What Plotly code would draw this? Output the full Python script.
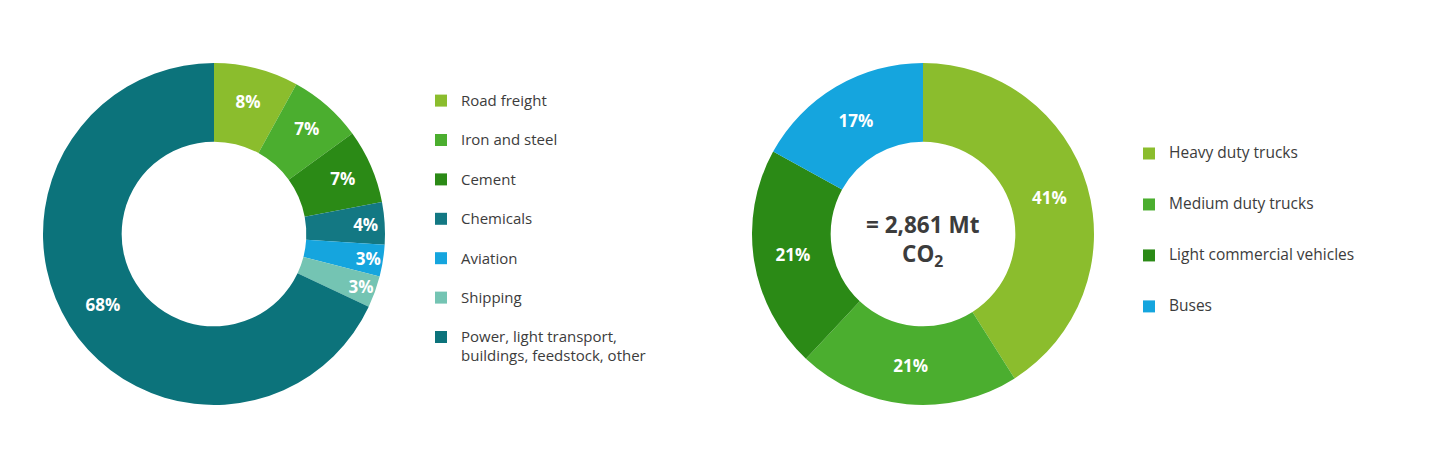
import plotly.graph_objects as go

# left donut: share of emissions by sector
sector_labels = ["Road freight", "Iron and steel", "Cement", "Chemicals",
                 "Aviation", "Shipping", "Power, light transport,<br>buildings, feedstock, other"]
sector_share = [8, 7, 7, 4, 3, 3, 68]
sector_colors = ["#8BBD2D", "#4BAE2F", "#2B8A16", "#137883", "#15A5DE", "#74C4B3", "#0C737B"]

# right donut: road freight split by vehicle type
vehicle_labels = ["Heavy duty trucks", "Medium duty trucks", "Light commercial vehicles", "Buses"]
vehicle_share = [41, 21, 21, 17]
vehicle_colors = ["#8BBD2D", "#4BAE2F", "#2B8A16", "#15A5DE"]

center_text = "= 2,861 Mt<br>CO<sub>2</sub>"

W, H = 1434, 452
OFF = 8  # page body margin in the browser
FONT = "Open Sans, Arial, sans-serif"
TEXT_COLOR = "#3c3c3c"
NBSP = "\u00a0"


def px_x(v):
    return (v - OFF) / W


def px_y(v):
    return 1 - (v - OFF) / H


def big(text, size):
    # legend row height follows the legend font size, so the shown text is
    # enlarged with a span while the row pitch stays as set
    return "<br>".join('<span style="font-size:%spx">%s</span>' % (size, t)
                       for t in text.split("<br>"))


fig = go.Figure()

# single-line items get blank lines so legend rows are spaced like the source
left_legend_text = [big(l, 15) if "<br>" in l else big(l, 15) + "<br>" + NBSP
                    for l in sector_labels]
right_legend_text = [big(l, 15.5) + "<br>" + NBSP + "<br>" + NBSP for l in vehicle_labels]

fig.add_trace(go.Pie(
    labels=left_legend_text,
    values=sector_share,
    hole=0.54,
    sort=False,
    direction="clockwise",
    rotation=0,
    marker=dict(colors=sector_colors, line=dict(width=0)),
    texttemplate="%{value}%",
    textposition="inside",
    insidetextorientation="horizontal",
    textfont=dict(family=FONT, size=17, color="white", weight="bold"),
    domain=dict(x=[px_x(43), px_x(385)], y=[px_y(405), px_y(63)]),
    legend="legend",
    hoverinfo="percent",
))

fig.add_trace(go.Pie(
    labels=right_legend_text,
    values=vehicle_share,
    hole=0.54,
    sort=False,
    direction="clockwise",
    rotation=0,
    marker=dict(colors=vehicle_colors, line=dict(width=0)),
    texttemplate="%{value}%",
    textposition="inside",
    insidetextorientation="horizontal",
    textfont=dict(family=FONT, size=17, color="white", weight="bold"),
    domain=dict(x=[px_x(752), px_x(1094)], y=[px_y(405), px_y(63)]),
    legend="legend2",
    hoverinfo="percent",
))

fig.add_annotation(
    text=center_text, x=px_x(923), y=px_y(240), xref="paper", yref="paper",
    showarrow=False, font=dict(family=FONT, size=22.5, color=TEXT_COLOR, weight="bold"),
)

fig.update_layout(
    width=W,
    height=H,
    margin=dict(l=0, r=0, t=0, b=0),
    paper_bgcolor="white",
    plot_bgcolor="white",
    font=dict(family=FONT, color=TEXT_COLOR),
    uniformtext=dict(minsize=17, mode="show"),
    legend=dict(
        x=px_x(421), y=px_y(85), xanchor="left", yanchor="top",
        font=dict(size=14, color=TEXT_COLOR), valign="top",
        traceorder="normal",
    ),
    legend2=dict(
        x=px_x(1129), y=px_y(139), xanchor="left", yanchor="top",
        font=dict(size=12.3, color=TEXT_COLOR), valign="top",
        traceorder="normal",
    ),
)

fig.write_html("out.html")
